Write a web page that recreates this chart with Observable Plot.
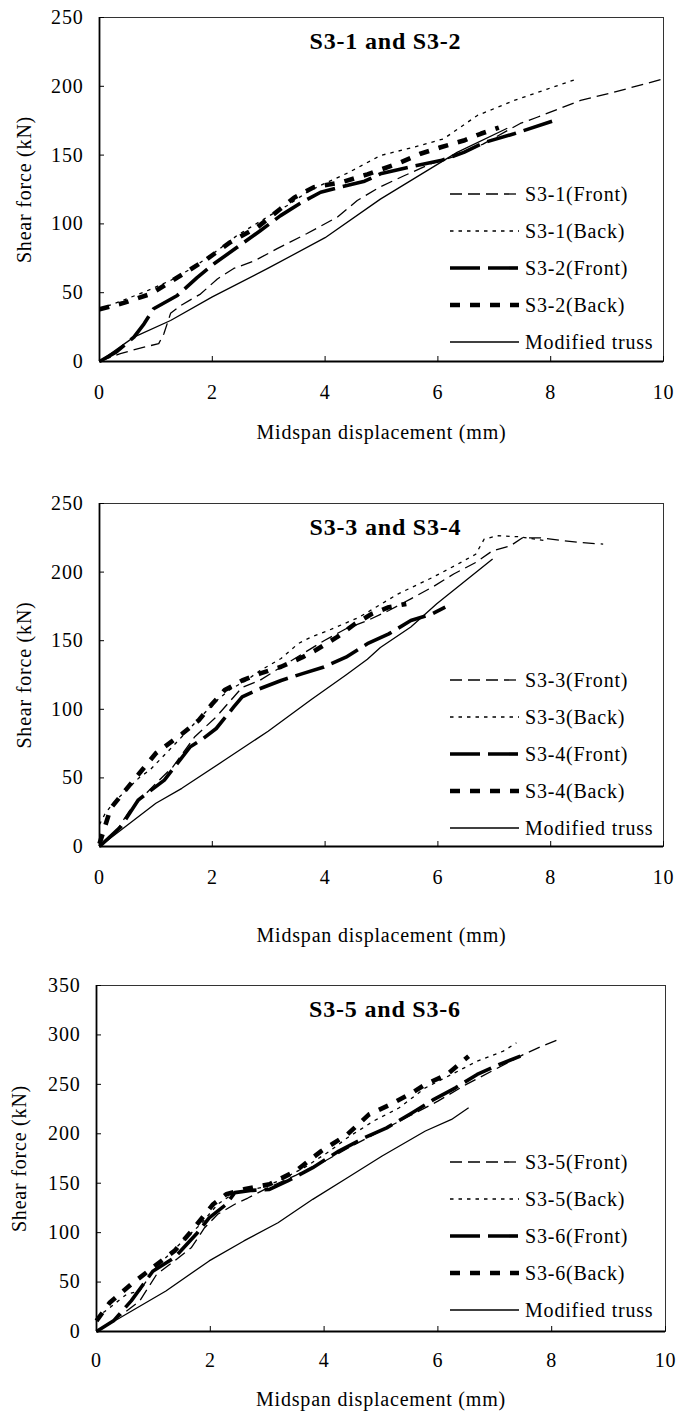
<!DOCTYPE html>
<html><head><meta charset="utf-8">
<script src="https://cdn.jsdelivr.net/npm/d3@7"></script>
<script src="https://cdn.jsdelivr.net/npm/@observablehq/plot@0.6"></script>
<style>
body{margin:0;background:#fff;}
#root{position:relative;width:677px;height:1416px;overflow:hidden;background:#fff;}
.panel{position:absolute;left:0;width:677px;}
.panel svg{display:block;}
.legend{position:absolute;left:0;top:0;pointer-events:none;}
</style></head><body><div id="root"></div>
<script>
// ---- tick labels & texts ----
const xTicks = [0, 2, 4, 6, 8, 10];
const yTicksA = [0, 50, 100, 150, 200, 250];
const yTicksB = [0, 50, 100, 150, 200, 250, 300, 350];
const xLabel = "Midspan displacement (mm)";
const yLabel = "Shear force (kN)";
const titles = ["S3-1 and S3-2", "S3-3 and S3-4", "S3-5 and S3-6"];
const names1 = ["S3-1(Front)", "S3-1(Back)", "S3-2(Front)", "S3-2(Back)", "Modified truss"];
const names2 = ["S3-3(Front)", "S3-3(Back)", "S3-4(Front)", "S3-4(Back)", "Modified truss"];
const names3 = ["S3-5(Front)", "S3-5(Back)", "S3-6(Front)", "S3-6(Back)", "Modified truss"];

// ---- panel 1 data [displacement mm, shear kN] ----
const s31Front = [[0,0],[0.37,5.8],[0.79,10.4],[1.05,13],[1.14,20],[1.26,35],[1.44,40.7],[1.79,49],[2.09,60],[2.38,67.6],[2.74,73],[3.15,82],[3.68,93],[4.22,105],[4.57,117],[4.98,127],[5.4,135],[5.87,143.6],[6.3,149],[6.8,158],[7.46,173],[7.76,177.5],[8.53,189.7],[9.12,195.7],[10,205.4]];
const s31Back = [[0,38.3],[0.25,41.9],[0.79,50.4],[1.26,58.9],[1.67,68.5],[2.09,80.7],[2.44,91.6],[2.97,104.9],[3.33,113.4],[3.68,123],[3.92,128],[4.4,137],[4.98,149.7],[5.57,155.7],[6.1,161.8],[6.7,178.8],[7.35,189.7],[7.94,198],[8.47,205.4]];
const s32Front = [[0,0],[0.3,7],[0.61,17.7],[0.79,27.4],[0.96,38.3],[1.38,48],[1.73,61],[2.03,71],[2.44,83],[2.85,95],[3.21,106],[3.56,115],[3.92,123],[4.3,127],[4.7,131],[4.98,136.4],[5.57,142],[6.05,146],[6.46,152],[6.81,159],[7.35,165.5],[8.05,175]];
const s32Back = [[0,38],[0.43,42.6],[0.9,49],[1.38,61],[1.91,74.6],[2.32,86.7],[2.8,97.6],[3.21,111],[3.45,119],[3.8,126.7],[4.27,130],[4.75,136],[5.28,143.7],[5.69,151],[6.05,155.7],[6.46,160.6],[6.76,165.5],[7.08,170]];
const truss1 = [[0,0],[0.61,17.7],[1.26,29.8],[2,47],[3,68],[4,90],[4.98,118],[6.34,152],[7.23,169.5]];

// ---- panel 2 data ----
const s33Front = [[0,0],[0.31,12],[0.54,26.6],[1.0,46],[1.3,58],[1.69,80],[2.07,94.5],[2.38,109],[2.53,116],[2.84,121],[3.22,130.8],[3.6,140.5],[3.98,150],[4.37,158.7],[4.75,164.7],[5.13,172],[5.52,180.5],[5.9,189],[6.28,198.6],[6.67,207],[6.97,215.6],[7.28,219],[7.5,225],[7.82,225],[8.2,223],[8.5,221.6],[8.93,220.4]];
const s33Back = [[0,16],[0.1,24],[0.25,32],[0.5,42],[0.7,50],[0.9,56],[1.3,73],[1.69,90],[2.07,106],[2.3,114],[2.6,121],[2.84,128],[3.22,137],[3.52,147.8],[3.75,152.6],[4.06,157.5],[4.6,167],[4.9,174.4],[5.29,184],[5.9,196],[6.36,206],[6.67,213],[6.82,224],[7.05,226.5],[7.43,225.8],[7.9,223]];
const s34Front = [[0,0],[0.38,14.5],[0.69,34],[1.15,48.4],[1.61,72.7],[1.84,78.7],[2.07,86],[2.38,101.7],[2.53,109],[2.84,115],[3.22,121],[3.6,126],[3.98,130.8],[4.37,138],[4.75,147.8],[5.13,155],[5.52,164.7],[5.9,169.6],[6.13,174.4]];
const s34Back = [[0,2],[0.1,15],[0.2,28],[0.4,38],[0.7,53],[1.0,68],[1.46,82],[1.76,92],[2.0,104],[2.22,114],[2.53,121],[2.84,126],[3.22,131],[3.6,138],[3.83,143],[4.21,152.6],[4.52,162],[4.83,169.6],[5.13,174.4],[5.44,176.8]];
const truss2 = [[0,0],[1,31.5],[1.46,42.4],[2.22,63],[2.99,84],[3.75,107],[4.37,125],[4.75,136.5],[4.98,145],[5.52,160],[5.98,177],[6.97,209.5]];

// ---- panel 3 data ----
const s35Front = [[0,0],[0.46,17.5],[0.76,31],[1.06,58],[1.37,71.4],[1.67,85],[1.9,105],[2.13,118.6],[2.43,128.7],[2.66,135],[3.0,145],[3.5,158],[4.0,172],[4.5,188],[5.0,203],[5.5,218],[6.0,233],[6.5,250],[7.0,265],[7.5,280],[7.8,288],[8.1,295]];
const s35Back = [[0,14],[0.23,24],[0.53,37.7],[0.76,41],[0.99,61],[1.22,74.8],[1.52,91.6],[1.83,108.5],[2.13,128.7],[2.43,140.5],[2.89,145.5],[3.19,152],[3.65,165.7],[4.1,182.5],[4.41,196],[4.87,212.9],[5.32,226.3],[5.78,246.5],[6.24,260],[6.69,273.5],[7.15,283.6],[7.38,292]];
const s36Front = [[0,0],[0.3,10.8],[0.61,31],[0.99,61],[1.37,74.8],[1.75,98.3],[1.98,115],[2.28,128.7],[2.43,140.5],[2.74,142.8],[3.04,143.8],[3.35,152],[3.8,165.7],[4.26,182.5],[4.71,196],[5.1,206],[5.55,221.3],[5.93,234.8],[6.31,246.5],[6.69,260],[7.07,270],[7.45,278.5]];
const s36Back = [[0,10.8],[0.23,29],[0.61,47.8],[0.99,64.7],[1.37,81.5],[1.67,101.7],[2.05,128.7],[2.28,138.8],[2.59,143.8],[3.04,148.9],[3.5,162.3],[3.95,182.5],[4.41,199.4],[4.79,219.6],[5.17,229.7],[5.55,241.5],[5.78,250],[6.16,260],[6.54,278.5]];
const truss3 = [[0,0],[1.22,41],[1.98,71.4],[2.59,91.6],[3.19,110],[3.8,133.7],[4.41,155.6],[5.02,177.5],[5.78,202.8],[6.24,214.5],[6.54,226.3]];

// ---- line styles (order: front A, back A, front B, back B, truss) ----
const styles = [
  {w: 1.3, dash: "12,6"},
  {w: 1.3, dash: "3.5,5"},
  {w: 3.6, dash: "30,8"},
  {w: 4.6, dash: "10,10"},
  {w: 1.3, dash: null}
];

const FONT = "'Liberation Serif', 'Times New Roman', serif";

const panels = [
  {top: 0, height: 460, mt: 17, mb: 99, ml: 99, mr: 14, yMax: 250, yTicks: yTicksA, title: titles[0], names: names1, series: [s31Front, s31Back, s32Front, s32Back, truss1], xTitleDy: 71, tickPad: 23.5, yTitleDx: -75},
  {top: 460, height: 480, mt: 43, mb: 94, ml: 99, mr: 14, yMax: 250, yTicks: yTicksA, title: titles[1], names: names2, series: [s33Front, s33Back, s34Front, s34Back, truss2], xTitleDy: 89, tickPad: 23.5, yTitleDx: -75},
  {top: 940, height: 476, mt: 45, mb: 85, ml: 96, mr: 12, yMax: 350, yTicks: yTicksB, title: titles[2], names: names3, series: [s35Front, s35Back, s36Front, s36Back, truss3], xTitleDy: 68, tickPad: 21.5, yTitleDx: -77}
];

const root = document.getElementById("root");

panels.forEach(cfg => {
  const W = 677;
  const plotW = W - cfg.ml - cfg.mr;
  const plotH = cfg.height - cfg.mt - cfg.mb;
  const marks = [
    Plot.frame({stroke: "#333", strokeWidth: 1}),
    ...cfg.series.map((s, i) => Plot.line(s, {
      x: d => d[0], y: d => d[1], stroke: "#000",
      strokeWidth: styles[i].w,
      strokeDasharray: styles[i].dash || undefined,
      strokeLinejoin: "round", strokeLinecap: "butt", curve: "linear"
    })),
    Plot.ruleX([0], {stroke: "#000", strokeWidth: 1.8}),
    Plot.ruleY([0], {stroke: "#000", strokeWidth: 1.8}),
    Plot.tickX(xTicks, {x: d => d, stroke: "#000", strokeWidth: 1, insetTop: plotH - 5}),
    Plot.tickY(cfg.yTicks, {y: d => d, stroke: "#000", strokeWidth: 1, insetRight: plotW - 5}),
    Plot.axisX({ticks: xTicks, tickSize: 0, tickPadding: cfg.tickPad, label: null, fontSize: 20, tickFormat: d => String(d)}),
    Plot.axisY({ticks: cfg.yTicks, tickSize: 0, tickPadding: 16, label: null, fontSize: 20, tickFormat: d => String(d)}),
    Plot.text([cfg.title], {frameAnchor: "top", dy: 24, dx: 4, fontWeight: "bold", fontSize: 24, lineAnchor: "middle", textAnchor: "middle", fill: "#000"}),
    Plot.text([xLabel], {frameAnchor: "bottom", dy: cfg.xTitleDy, fontSize: 20, lineAnchor: "middle", textAnchor: "middle", fill: "#000"}),
    Plot.text([yLabel], {frameAnchor: "left", dx: cfg.yTitleDx, rotate: -90, fontSize: 20, lineAnchor: "middle", textAnchor: "middle", fill: "#000"})
  ];
  const svg = Plot.plot({
    width: W, height: cfg.height,
    marginTop: cfg.mt, marginBottom: cfg.mb, marginLeft: cfg.ml, marginRight: cfg.mr,
    x: {domain: [0, 10]},
    y: {domain: [0, cfg.yMax]},
    style: {fontFamily: FONT, fontSize: "20px", color: "#000", background: "transparent", letterSpacing: "0.8px", overflow: "visible"},
    marks
  });
  const div = document.createElement("div");
  div.className = "panel";
  div.style.top = cfg.top + "px";
  div.style.height = cfg.height + "px";
  div.appendChild(svg);

  // legend overlay inside plot area
  const leg = d3.create("svg").attr("class", "legend").attr("width", W).attr("height", cfg.height)
    .style("font-family", FONT).style("font-size", "20px").style("letter-spacing", "0.8px");
  cfg.names.forEach((name, i) => {
    const y = cfg.mt + 177 + 37 * i;
    leg.append("line").attr("x1", 450).attr("x2", 519).attr("y1", y).attr("y2", y)
      .attr("stroke", "#000").attr("stroke-width", styles[i].w)
      .attr("stroke-dasharray", styles[i].dash || null);
    leg.append("text").attr("x", 525).attr("y", y).attr("dy", "0.33em").attr("fill", "#000").text(name);
  });
  div.appendChild(leg.node());
  root.appendChild(div);
});
</script></body></html>
